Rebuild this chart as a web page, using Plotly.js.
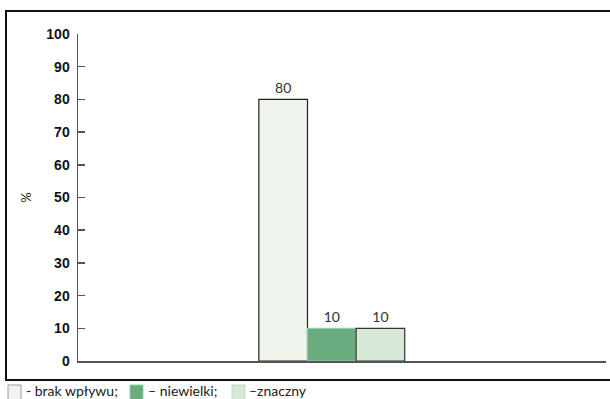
<!DOCTYPE html>
<html>
<head>
<meta charset="utf-8">
<script src="https://cdn.plot.ly/plotly-3.0.1.min.js"></script>
<style>
  html, body { margin: 0; padding: 0; background: #fff; overflow: hidden; }
  #chart { width: 610px; height: 399px; }
</style>
</head>
<body>
<div id="chart"></div>
<script>
// Share of answers per impact level
const category = [''];
const seriesNames = ['- brak wpływu;', '– niewielki;', '–znaczny'];
const seriesValues = [[80], [10], [10]];
const fillColors = ['#eff5ec', '#6aab80', '#d5e9d6'];
const lineColors = ['#222222', '#8fd3a2', '#333333'];
const keyLineColors = ['#9a9a9a', '#8fd3a2', '#c4d8c6'];
const yTicks = [0, 10, 20, 30, 40, 50, 60, 70, 80, 90, 100];

const traces = seriesNames.map((name, i) => ({
  type: 'bar',
  name: name,
  x: category,
  y: seriesValues[i],
  text: seriesValues[i].map(String),
  textposition: 'outside',
  cliponaxis: false,
  textfont: { family: 'Lato, sans-serif', size: 14, color: '#333' },
  marker: { color: fillColors[i], line: { color: lineColors[i], width: 1.2 } },
  hoverinfo: 'skip'
}));

// Helpers to place decorations in page pixels on the paper
const plotL = 78, plotW = 528, plotB = 361, plotH = 327;
const px = v => (v - plotL) / plotW;
const py = v => (plotB - v) / plotH;

// Open frame around the chart: left, top and bottom edges running off the right side
const frameStyle = { color: '#111', width: 2 };
const frameShapes = [
  { type: 'line', xref: 'paper', yref: 'paper', x0: px(6), x1: px(6), y0: py(11), y1: py(380), line: frameStyle },
  { type: 'line', xref: 'paper', yref: 'paper', x0: px(5), x1: px(615), y0: py(11), y1: py(11), line: frameStyle },
  { type: 'line', xref: 'paper', yref: 'paper', x0: px(5), x1: px(615), y0: py(380), y1: py(380), line: frameStyle }
];

// Key below the plot: a small swatch followed by its label
const keySwatchX = [8, 130, 232];
const keyTextX = [24, 146, 247];
const keyShapes = seriesNames.map((n, i) => ({
  type: 'rect', xref: 'paper', yref: 'paper',
  x0: px(keySwatchX[i]), x1: px(keySwatchX[i] + 13),
  y0: py(385), y1: py(401),
  fillcolor: fillColors[i], line: { color: keyLineColors[i], width: 1 }
}));
const keyLabels = seriesNames.map((n, i) => ({
  xref: 'paper', yref: 'paper', x: px(keyTextX[i]), y: py(391),
  xanchor: 'left', yanchor: 'middle', showarrow: false, text: n,
  font: { family: 'Lato, sans-serif', size: 14, color: '#222' }
}));

const layout = {
  width: 610, height: 399,
  margin: { l: plotL, r: 4, t: 34, b: 38, autoexpand: false },
  paper_bgcolor: '#fff',
  plot_bgcolor: 'rgba(0,0,0,0)',
  barmode: 'group',
  bargap: 0.5,
  bargroupgap: 0,
  showlegend: false,
  shapes: frameShapes.concat(keyShapes),
  annotations: keyLabels,
  xaxis: {
    type: 'category', range: [-0.87, 0.94], fixedrange: true,
    showticklabels: false, ticks: '', showgrid: false, zeroline: false,
    showline: true, linecolor: '#555', linewidth: 2
  },
  yaxis: {
    range: [0, 100], tickvals: yTicks, ticktext: yTicks.map(String),
    ticks: 'inside', ticklen: 7, tickcolor: '#555', tickwidth: 1.5,
    showline: true, linecolor: '#555', linewidth: 1.5,
    showgrid: false, zeroline: false, ticklabelstandoff: 4,
    tickfont: { family: 'Liberation Sans, Arial, sans-serif', size: 14, color: '#111', weight: 'bold' },
    title: { text: '%', standoff: 12, font: { family: 'Lato, sans-serif', size: 13, color: '#222' } }
  }
};

Plotly.newPlot('chart', traces, layout, { staticPlot: true, displayModeBar: false });
</script>
</body>
</html>
